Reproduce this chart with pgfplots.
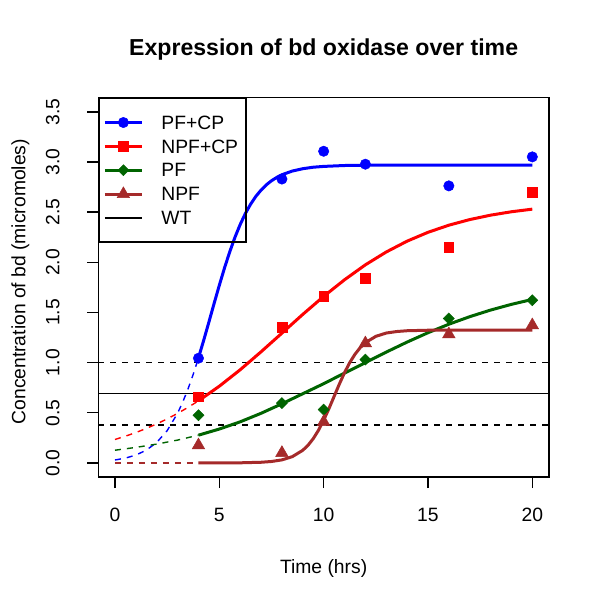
\documentclass[border=0pt]{standalone}
\usepackage{fontspec}
\setmainfont{Liberation Sans}
\usepackage{pgfplots}
\pgfplotsset{compat=1.18}
\definecolor{cblue}{RGB}{0,0,255}
\definecolor{cred}{RGB}{255,0,0}
\definecolor{cgreen}{RGB}{0,100,0}
\definecolor{cbrown}{RGB}{165,42,42}
\newcommand{\nf}{\fontsize{19.3bp}{23bp}\selectfont}
\begin{document}
\begin{tikzpicture}
\useasboundingbox[fill=white] (0,0) rectangle (600bp,600bp);
\begin{axis}[
  at={(98.3bp,123bp)}, anchor=south west,
  scale only axis, width=450.7bp, height=379.2bp,
  xmin=-0.8, xmax=20.8, ymin=-0.14, ymax=3.64,
  axis line style={line width=1.4bp, black},
  tick align=outside, major tick length=11bp,
  xtick pos=left, ytick pos=left,
  tick style={line width=1.4bp, black},
  xtick={0,5,10,15,20}, xticklabels={0,5,10,15,20},
  ytick={0,0.5,1,1.5,2,2.5,3,3.5},
  yticklabels={0.0,0.5,1.0,1.5,2.0,2.5,3.0,3.5},
  tick label style={font=\nf},
  xticklabel style={anchor=base, yshift=-33.7bp},
  yticklabel style={xshift=-28bp, rotate=90, anchor=base},
  every axis title/.style={at={(axis description cs:0.5,1.1108)}, anchor=base, font=\fontsize{23.1bp}{27bp}\selectfont\bfseries},
  every axis x label/.style={at={(axis description cs:0.5,-0.2541)}, anchor=base, font=\nf},
  every axis y label/.style={at={(axis description cs:-0.162,0.515)}, rotate=90, anchor=base, font=\nf},
  title={Expression of bd oxidase over time},
  xlabel={Time (hrs)},
  ylabel={Concentration of bd (micromoles)},
  legend image code/.code={
    \draw[mark repeat=2, mark phase=2, #1] plot coordinates {(0bp,0bp) (18.5bp,0bp) (37bp,0bp)};
  },
  legend cell align=left,
  legend style={at={(axis description cs:0,1)}, anchor=north west, draw=black, line width=1.4bp, fill=none,
    inner xsep=4.4bp, inner ysep=12.1bp, column sep=18bp, row sep=0bp, font=\nf,
    nodes={inner sep=0bp, text height=13.3bp, text depth=0bp, minimum height=23.85bp, text width=80bp}},
]
% legend images
\addlegendimage{cblue, line width=3bp, mark=*, mark size=5.2bp, mark options={solid, fill=cblue, line width=0.5bp}}
\addlegendentry{PF+CP}
\addlegendimage{cred, line width=3bp, mark=square*, mark size=4.9bp, mark options={solid, fill=cred, line width=0.5bp}}
\addlegendentry{NPF+CP}
\addlegendimage{cgreen, line width=3bp, mark=square*, mark size=3.9bp, mark options={solid, fill=cgreen, rotate=45, line width=0.5bp}}
\addlegendentry{PF}
\addlegendimage{cbrown, line width=3bp, mark=triangle*, mark size=7.2bp, mark options={solid, fill=cbrown, line width=0.5bp}}
\addlegendentry{NPF}
\addlegendimage{black, line width=1.4bp}
\addlegendentry{WT}

% reference lines
\addplot[black, line width=1.4bp, forget plot] coordinates {(-0.8,0.69) (20.8,0.69)};
\addplot[black, line width=1.4bp, dash pattern=on 6bp off 6bp, forget plot] coordinates {(-0.8,1.0) (20.8,1.0)};
\addplot[black, line width=1.4bp, dash pattern=on 6bp off 6bp, forget plot] coordinates {(-0.8,0.38) (20.8,0.38)};

% dashed extrapolations
\addplot[cblue, line width=1.4bp, dash pattern=on 6bp off 6bp, forget plot] coordinates {
(0,0.0295) (0.5,0.0482) (1,0.0787) (1.5,0.1274) (2,0.2042) (2.5,0.3222) (3,0.4960) (3.25,0.608) (3.5,0.7377) (3.75,0.884) (4,1.047)};
\addplot[cred, line width=1.4bp, dash pattern=on 6bp off 6bp, forget plot] coordinates {
(0,0.234) (0.5,0.267) (1,0.303) (1.5,0.344) (2,0.389) (2.5,0.439) (3,0.494) (3.5,0.554) (4,0.619)};
\addplot[cgreen, line width=1.4bp, dash pattern=on 6bp off 6bp, forget plot] coordinates {
(0,0.127) (1,0.155) (2,0.188) (3,0.228) (4,0.277)};
\addplot[cbrown, line width=1.4bp, dash pattern=on 6bp off 6bp, forget plot] coordinates {
(0,0.0) (4,0.0)};

% fitted curves
\addplot[cblue, line width=3bp, forget plot] coordinates {
(4,1.047) (4.25,1.222) (4.5,1.404) (4.75,1.590) (5,1.771) (5.25,1.945) (5.5,2.105) (5.75,2.250)
(6,2.377) (6.25,2.487) (6.5,2.580) (6.75,2.657) (7,2.720) (7.25,2.772) (7.5,2.813) (7.75,2.846)
(8,2.873) (8.5,2.910) (9,2.933) (9.5,2.948) (10,2.956) (11,2.965) (12,2.968) (14,2.970) (16,2.970) (20,2.970)};
\addplot[cred, line width=3bp, forget plot] coordinates {
(4,0.619) (5,0.765) (6,0.929) (7,1.108) (8,1.294) (9,1.481) (10,1.660) (11,1.826) (12,1.975)
(13,2.103) (14,2.211) (15,2.299) (16,2.370) (17,2.426) (18,2.470) (19,2.504) (20,2.530)};
\addplot[cgreen, line width=3bp, forget plot] coordinates {
(4,0.277) (5,0.338) (6,0.410) (7,0.495) (8,0.590) (9,0.690) (10,0.790) (11,0.896) (12,1.000)
(13,1.105) (14,1.205) (15,1.298) (16,1.383) (17,1.458) (18,1.524) (19,1.581) (20,1.630)};
\addplot[cbrown, line width=3bp, forget plot] coordinates {
(4,0.0001) (5,0.0003) (6,0.0015) (7,0.0069) (7.5,0.0146) (8,0.0305) (8.5,0.0629) (9,0.1265)
(9.25,0.176) (9.5,0.242) (9.75,0.325) (10,0.426) (10.25,0.540) (10.5,0.6625) (10.75,0.785)
(11,0.900) (11.25,1.000) (11.5,1.083) (11.75,1.149) (12,1.199) (12.5,1.262) (13,1.295)
(13.5,1.310) (14,1.318) (15,1.323) (16,1.3245) (20,1.325)};

% data points
\addplot[only marks, mark=*, mark size=5.2bp, cblue, mark options={fill=cblue, line width=0.5bp}, forget plot] coordinates {
(4,1.044) (8,2.83) (10,3.107) (12,2.978) (16,2.762) (20,3.051)};
\addplot[only marks, mark=square*, mark size=4.9bp, cred, mark options={fill=cred, line width=0.5bp}, forget plot] coordinates {
(4,0.66) (8,1.356) (10,1.665) (12,1.845) (16,2.148) (20,2.696)};
\addplot[only marks, mark=square*, mark size=3.9bp, cgreen, mark options={fill=cgreen, rotate=45, line width=0.5bp}, forget plot] coordinates {
(4,0.476) (8,0.597) (10,0.532) (12,1.031) (16,1.44) (20,1.622)};
\addplot[only marks, mark=triangle*, mark size=7.2bp, cbrown, mark options={fill=cbrown, line width=0.5bp}, forget plot] coordinates {
(4,0.176) (8,0.10) (10,0.409) (12,1.193) (16,1.283) (20,1.373)};
\end{axis}
\end{tikzpicture}
\end{document}
